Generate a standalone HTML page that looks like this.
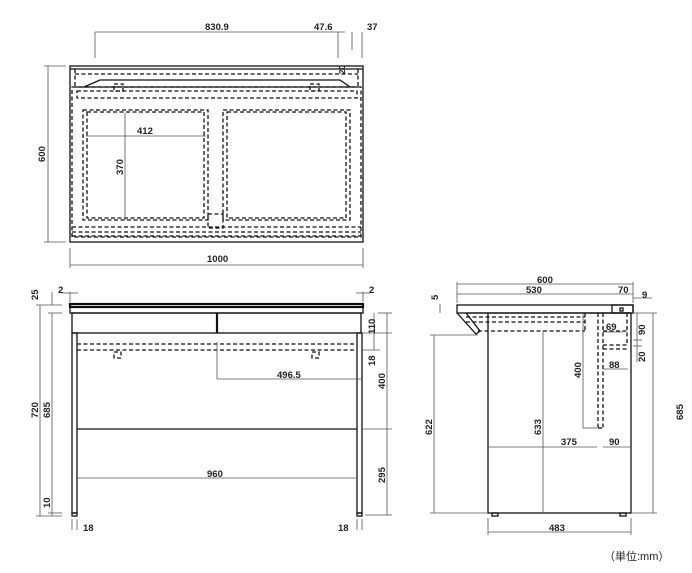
<!DOCTYPE html>
<html><head><meta charset="utf-8"><style>
html,body{margin:0;padding:0;background:#fff;}
svg{display:block;}
text{font-family:"Liberation Sans","Noto Sans CJK JP",sans-serif;font-size:9.5px;fill:#222;font-weight:bold;}
.s{stroke:#111;fill:none;stroke-width:1.3;}
.t{stroke:#111;fill:none;stroke-width:2.2;}
.d{stroke:#111;fill:none;stroke-width:1.3;stroke-dasharray:4,2.5;}
.m{stroke:#555;fill:none;stroke-width:0.8;}
</style></head><body>
<svg width="692" height="573" viewBox="0 0 692 573" xmlns="http://www.w3.org/2000/svg">
<!-- TOP VIEW -->
<rect class="s" x="70" y="66" width="293" height="176"/>
<line class="s" x1="70" y1="69" x2="363" y2="69"/>
<line class="s" x1="75" y1="87" x2="358" y2="87"/>
<path class="s" d="M84 87 L100 80 L340 80 L350 87"/>
<line class="d" x1="75" y1="74" x2="358" y2="74"/>
<line class="d" x1="75" y1="69" x2="75" y2="87"/><line class="d" x1="358" y1="69" x2="358" y2="87"/>
<rect class="d" x="77" y="91" width="280" height="7"/>
<rect class="d" x="72" y="87" width="289" height="150"/>
<rect class="d" x="83" y="110" width="125" height="110"/>
<rect class="d" x="87" y="112" width="117" height="106"/>
<rect class="d" x="223" y="110" width="127" height="110"/>
<rect class="d" x="227" y="112" width="119" height="106"/>
<line class="d" x1="72" y1="227" x2="361" y2="227"/>
<line class="d" x1="72" y1="232" x2="361" y2="232"/>
<line class="d" x1="72" y1="236" x2="361" y2="236"/>
<rect class="d" x="208" y="214" width="15" height="14"/>
<rect class="d" x="114" y="84" width="9" height="7"/>
<rect class="d" x="310" y="84" width="9" height="7"/>
<line class="m" x1="86" y1="136" x2="206" y2="136"/>
<line class="m" x1="125" y1="113" x2="125" y2="220"/>
<text x="137" y="134">412</text>
<text transform="translate(123,175) rotate(-90)">370</text>
<line class="m" x1="95" y1="32" x2="345" y2="32"/>
<line class="m" x1="95" y1="32" x2="95" y2="58"/>
<line class="m" x1="338" y1="32" x2="338" y2="58"/>
<line class="m" x1="352" y1="32" x2="352" y2="50"/>
<line class="m" x1="362" y1="32" x2="362" y2="58"/>
<text x="205" y="30">830.9</text>
<text x="314" y="30">47.6</text>
<text x="367" y="30">37</text>
<text transform="translate(345,74) rotate(-90)" style="font-size:8px">20</text>
<line class="m" x1="48" y1="66" x2="48" y2="242"/>
<line class="m" x1="44" y1="66" x2="66" y2="66"/><line class="m" x1="44" y1="242" x2="66" y2="242"/>
<text transform="translate(45,162) rotate(-90)">600</text>
<line class="m" x1="70" y1="265" x2="363" y2="265"/>
<line class="m" x1="70" y1="248" x2="70" y2="268"/><line class="m" x1="363" y1="248" x2="363" y2="268"/>
<text x="207" y="262">1000</text>

<!-- FRONT VIEW -->
<rect class="t" x="70" y="304" width="293" height="3"/>
<rect class="s" x="70" y="307" width="293" height="6"/>
<rect class="s" x="72" y="313" width="289" height="20"/>
<line class="t" x1="217" y1="313" x2="217" y2="333"/>
<rect class="s" x="72" y="333" width="5" height="180"/>
<rect class="s" x="357" y="333" width="5" height="180"/>
<rect class="s" x="72" y="513" width="5" height="3"/><rect class="s" x="357" y="513" width="5" height="3"/>
<line class="s" x1="77" y1="429" x2="357" y2="429"/>
<line class="d" x1="77" y1="344" x2="357" y2="344"/>
<line class="d" x1="77" y1="350" x2="357" y2="350"/>
<rect class="d" x="114" y="352" width="7" height="6"/>
<rect class="d" x="312" y="352" width="7" height="6"/>
<line class="m" x1="217" y1="342" x2="217" y2="379"/>
<line class="m" x1="217" y1="379" x2="362" y2="379"/>
<text x="277" y="378">496.5</text>
<line class="m" x1="77" y1="478" x2="357" y2="478"/>
<text x="207" y="477">960</text>
<line class="m" x1="40" y1="305" x2="40" y2="516"/>
<line class="m" x1="52" y1="313" x2="52" y2="516"/>
<line class="m" x1="36" y1="305" x2="62" y2="305"/><line class="m" x1="48" y1="313" x2="62" y2="313"/>
<line class="m" x1="36" y1="516" x2="62" y2="516"/><line class="m" x1="48" y1="513" x2="62" y2="513"/>
<line class="m" x1="52" y1="292" x2="52" y2="305"/>
<text transform="translate(38,418) rotate(-90)">720</text>
<text transform="translate(50,418) rotate(-90)">685</text>
<text transform="translate(38,300) rotate(-90)">25</text>
<text transform="translate(50,508) rotate(-90)">10</text>
<line class="m" x1="70" y1="292" x2="70" y2="302"/><line class="m" x1="63" y1="293" x2="78" y2="293"/>
<text x="58" y="293">2</text>
<line class="m" x1="363" y1="292" x2="363" y2="302"/><line class="m" x1="356" y1="293" x2="370" y2="293"/>
<text x="369" y="293">2</text>
<line class="m" x1="72" y1="519" x2="72" y2="530"/><line class="m" x1="77" y1="519" x2="77" y2="530"/>
<text x="83" y="531">18</text>
<line class="m" x1="357" y1="519" x2="357" y2="530"/><line class="m" x1="362" y1="519" x2="362" y2="530"/>
<text x="338" y="531">18</text>
<line class="m" x1="387" y1="313" x2="387" y2="515"/>
<line class="m" x1="378" y1="313" x2="392" y2="313"/>
<line class="m" x1="362" y1="333" x2="392" y2="333"/>
<line class="m" x1="362" y1="350" x2="380" y2="350"/>
<line class="m" x1="362" y1="429" x2="392" y2="429"/>
<line class="m" x1="365" y1="515" x2="392" y2="515"/>
<line class="m" x1="374" y1="313" x2="374" y2="350"/>
<text transform="translate(375,334) rotate(-90)">110</text>
<text transform="translate(375,366) rotate(-90)">18</text>
<text transform="translate(385,389) rotate(-90)">400</text>
<text transform="translate(385,483) rotate(-90)">295</text>

<!-- SIDE VIEW -->
<rect class="s" x="457" y="305" width="176" height="8"/>
<rect class="s" x="612" y="305" width="21" height="8"/>
<rect class="s" x="620" y="308" width="3" height="3"/>
<path class="s" d="M457 313 L476 334 L480 331 L466 313"/>
<line class="s" x1="465" y1="313" x2="488" y2="313"/>
<rect class="s" x="488" y="313" width="143" height="200"/>
<rect class="s" x="492" y="513" width="6" height="3"/><rect class="s" x="620" y="513" width="6" height="3"/>
<line class="d" x1="466" y1="317" x2="585" y2="317"/>
<line class="d" x1="466" y1="322" x2="585" y2="322"/>
<line class="d" x1="478" y1="331" x2="585" y2="331"/>
<line class="d" x1="585" y1="313" x2="585" y2="331"/>
<line class="d" x1="598" y1="313" x2="598" y2="428"/>
<line class="d" x1="603" y1="313" x2="603" y2="428"/>
<line class="d" x1="598" y1="428" x2="603" y2="428"/>
<line class="d" x1="603" y1="331" x2="627" y2="331"/>
<line class="d" x1="627" y1="313" x2="627" y2="345"/>
<line class="d" x1="603" y1="345" x2="627" y2="345"/>
<line class="d" x1="603" y1="349" x2="627" y2="349"/>
<line class="m" x1="457" y1="284" x2="633" y2="284"/>
<line class="m" x1="457" y1="294" x2="612" y2="294"/>
<line class="m" x1="612" y1="294" x2="633" y2="294"/>
<line class="m" x1="457" y1="282" x2="457" y2="303"/><line class="m" x1="633" y1="282" x2="633" y2="303"/>
<line class="m" x1="633" y1="298" x2="652" y2="298"/>
<text x="537" y="283">600</text>
<text x="526" y="293">530</text>
<text x="618" y="293">70</text>
<text x="642" y="298">9</text>
<text transform="translate(438,300) rotate(-90)">5</text>
<line class="m" x1="440" y1="304" x2="440" y2="313"/>
<line class="m" x1="434" y1="335" x2="434" y2="513"/>
<line class="m" x1="430" y1="335" x2="478" y2="335"/><line class="m" x1="430" y1="513" x2="488" y2="513"/>
<text transform="translate(432,435) rotate(-90)">622</text>
<line class="m" x1="543" y1="331" x2="543" y2="513"/>
<text transform="translate(541,435) rotate(-90)">633</text>
<line class="m" x1="583" y1="313" x2="583" y2="428"/>
<line class="m" x1="583" y1="428" x2="597" y2="428"/>
<text transform="translate(581,378) rotate(-90)">400</text>
<line class="m" x1="488" y1="447" x2="597" y2="447"/>
<line class="m" x1="603" y1="447" x2="631" y2="447"/>
<text x="561" y="445">375</text>
<text x="609" y="445">90</text>
<line class="m" x1="603" y1="332" x2="623" y2="332"/>
<text x="606" y="330">69</text>
<line class="m" x1="603" y1="369" x2="628" y2="369"/>
<text x="609" y="368">88</text>
<line class="m" x1="653" y1="313" x2="653" y2="513"/>
<line class="m" x1="631" y1="313" x2="657" y2="313"/><line class="m" x1="631" y1="513" x2="657" y2="513"/>
<line class="m" x1="637" y1="313" x2="637" y2="362"/>
<line class="m" x1="633" y1="340" x2="642" y2="340"/><line class="m" x1="633" y1="346" x2="642" y2="346"/>
<text transform="translate(645,335) rotate(-90)">90</text>
<text transform="translate(645,362) rotate(-90)">20</text>
<text transform="translate(683,420) rotate(-90)">685</text>
<line class="m" x1="488" y1="532" x2="631" y2="532"/>
<line class="m" x1="488" y1="518" x2="488" y2="535"/><line class="m" x1="631" y1="518" x2="631" y2="535"/>
<text x="549" y="531">483</text>
<text x="604" y="560" style="font-weight:normal;font-size:11px">（単位:mm）</text>
</svg>
</body></html>
